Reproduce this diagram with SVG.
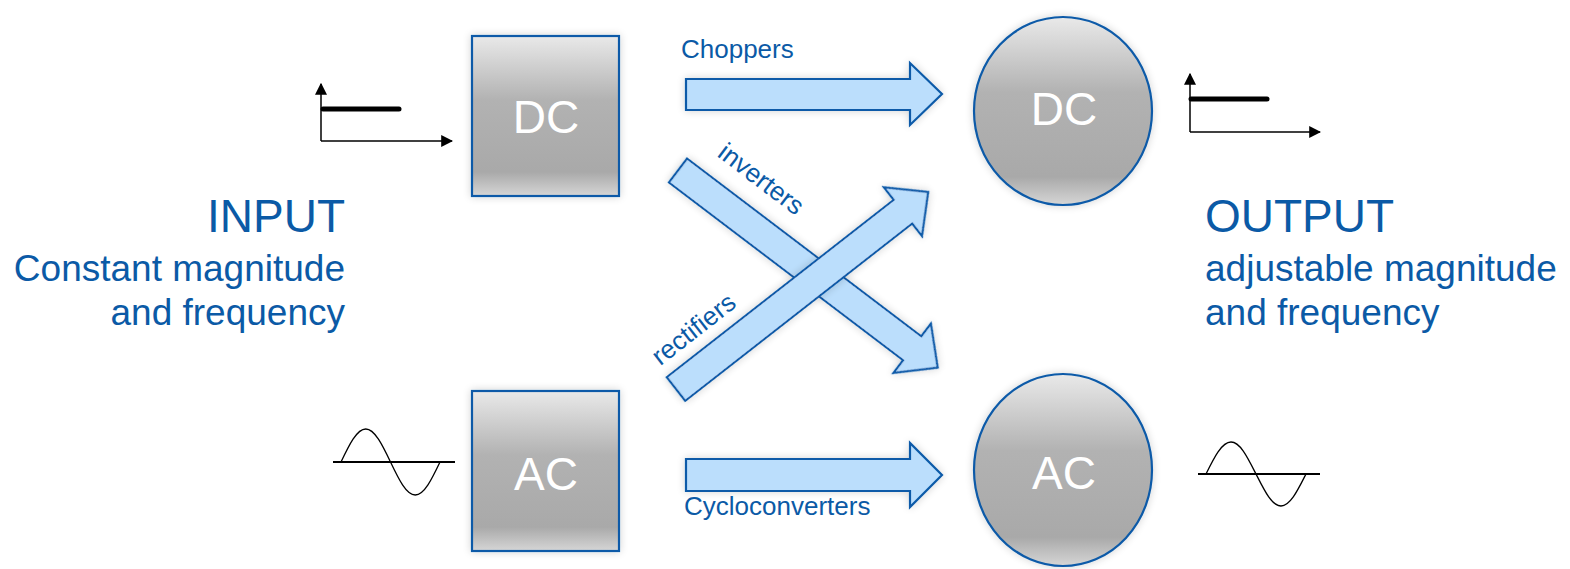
<svg xmlns="http://www.w3.org/2000/svg" width="1570" height="569" viewBox="0 0 1570 569">
<defs>
<linearGradient id="g" x1="0" y1="0" x2="0" y2="1">
<stop offset="0" stop-color="#e9e9e9"/>
<stop offset="0.4" stop-color="#b2b2b2"/>
<stop offset="0.85" stop-color="#a9a9a9"/>
<stop offset="1" stop-color="#d6d6d6"/>
</linearGradient>
<filter id="sh" x="-10%" y="-10%" width="120%" height="120%">
<feGaussianBlur in="SourceAlpha" stdDeviation="4"/>
<feComponentTransfer><feFuncA type="linear" slope="0.18"/></feComponentTransfer>
<feMerge><feMergeNode/><feMergeNode in="SourceGraphic"/></feMerge>
</filter>
<marker id="ah" viewBox="0 0 10 10" refX="9" refY="5" markerWidth="12" markerHeight="12" markerUnits="userSpaceOnUse" orient="auto">
<path d="M0,0 L10,5 L0,10 Z" fill="#000"/>
</marker>
</defs>
<style>
.node{fill:url(#g);stroke:#0b5aa8;stroke-width:2.2}
.nt{font-family:"Liberation Sans",Arial,sans-serif;font-size:46px;fill:#fff;text-anchor:middle}
.arr{fill:#bbdefc;stroke:#0b5aa8;stroke-width:2.2;stroke-linejoin:miter}
.lbl{font-family:"Liberation Sans",Arial,sans-serif;font-size:26px;fill:#0b5aa6}
.big{font-family:"Liberation Sans",Arial,sans-serif;font-size:46px;fill:#0b5aa6}
.mid{font-family:"Liberation Sans",Arial,sans-serif;font-size:37px;fill:#0b5aa6}
.ax{stroke:#000;stroke-width:1.5;fill:none}
.lev{stroke:#000;stroke-width:5;stroke-linecap:round;fill:none}
.sine{stroke:#000;stroke-width:1.3;fill:none}
.base{stroke:#000;stroke-width:2.2;fill:none}
</style>

<g id="dc-in">
<rect class="node" x="472" y="36" width="147" height="160" filter="url(#sh)"/>
<text class="nt" x="546" y="133">DC</text>
</g>
<g id="ac-in">
<rect class="node" x="472" y="391" width="147" height="160" filter="url(#sh)"/>
<text class="nt" x="546" y="490">AC</text>
</g>
<g id="dc-out">
<ellipse class="node" cx="1063" cy="111" rx="89" ry="94" filter="url(#sh)"/>
<text class="nt" x="1064" y="125">DC</text>
</g>
<g id="ac-out">
<ellipse class="node" cx="1063" cy="470" rx="89" ry="96" filter="url(#sh)"/>
<text class="nt" x="1064" y="489">AC</text>
</g>

<g id="connectors">
<path class="arr" filter="url(#sh)" d="M686,79 L910,79 L910,63 L942,94 L910,125 L910,110 L686,110 Z"/>
<path class="arr" filter="url(#sh)" d="M686,459 L910,459 L910,443 L942,475 L910,507 L910,491 L686,491 Z"/>
<path class="arr" filter="url(#sh)" transform="translate(678,170.5) rotate(37.2)" d="M0,-15 L294,-15 L294,-31 L326,0 L294,31 L294,15 L0,15 Z"/>
<path class="arr" filter="url(#sh)" transform="translate(676,389) rotate(-38)" d="M0,-15 L288,-15 L288,-31 L320,0 L288,31 L288,15 L0,15 Z"/>
<text class="lbl" x="681" y="58">Choppers</text>
<text class="lbl" x="684" y="515">Cycloconverters</text>
<text class="lbl" text-anchor="middle" transform="translate(756,186) rotate(37.2)">inverters</text>
<text class="lbl" text-anchor="middle" transform="translate(699,336) rotate(-38)">rectifiers</text>
</g>

<g id="input-text">
<text class="big" x="345" y="232" text-anchor="end">INPUT</text>
<text class="mid" x="345" y="281" text-anchor="end">Constant magnitude</text>
<text class="mid" x="345" y="325" text-anchor="end">and frequency</text>
</g>
<g id="output-text">
<text class="big" x="1205" y="232">OUTPUT</text>
<text class="mid" x="1205" y="281">adjustable magnitude</text>
<text class="mid" x="1205" y="325">and frequency</text>
</g>

<g id="dc-in-graph">
<path class="ax" d="M321,141 L321,84" marker-end="url(#ah)"/>
<path class="ax" d="M321,141 L452,141" marker-end="url(#ah)"/>
<path class="lev" d="M323,109 L399,109"/>
</g>
<g id="dc-out-graph">
<path class="ax" d="M1190,132 L1190,74" marker-end="url(#ah)"/>
<path class="ax" d="M1190,132 L1320,132" marker-end="url(#ah)"/>
<path class="lev" d="M1191,99 L1267,99"/>
</g>
<g id="ac-in-graph">
<path class="base" d="M333,462 L455,462"/>
<path class="sine" transform="translate(341,462)" d="M0,0 c8.07,-16.91 15.79,-33 24.75,-33 s16.68,16.09 24.75,33 s15.79,33 24.75,33 s16.68,-16.09 24.75,-33"/>
</g>
<g id="ac-out-graph">
<path class="base" d="M1198,474 L1320,474"/>
<path class="sine" transform="translate(1206,474)" d="M0,0 c8.07,-16.4 15.79,-32 25,-32 s16.68,15.6 25,32 s15.79,32 25,32 s16.68,-15.6 25,-32"/>
</g>
</svg>
